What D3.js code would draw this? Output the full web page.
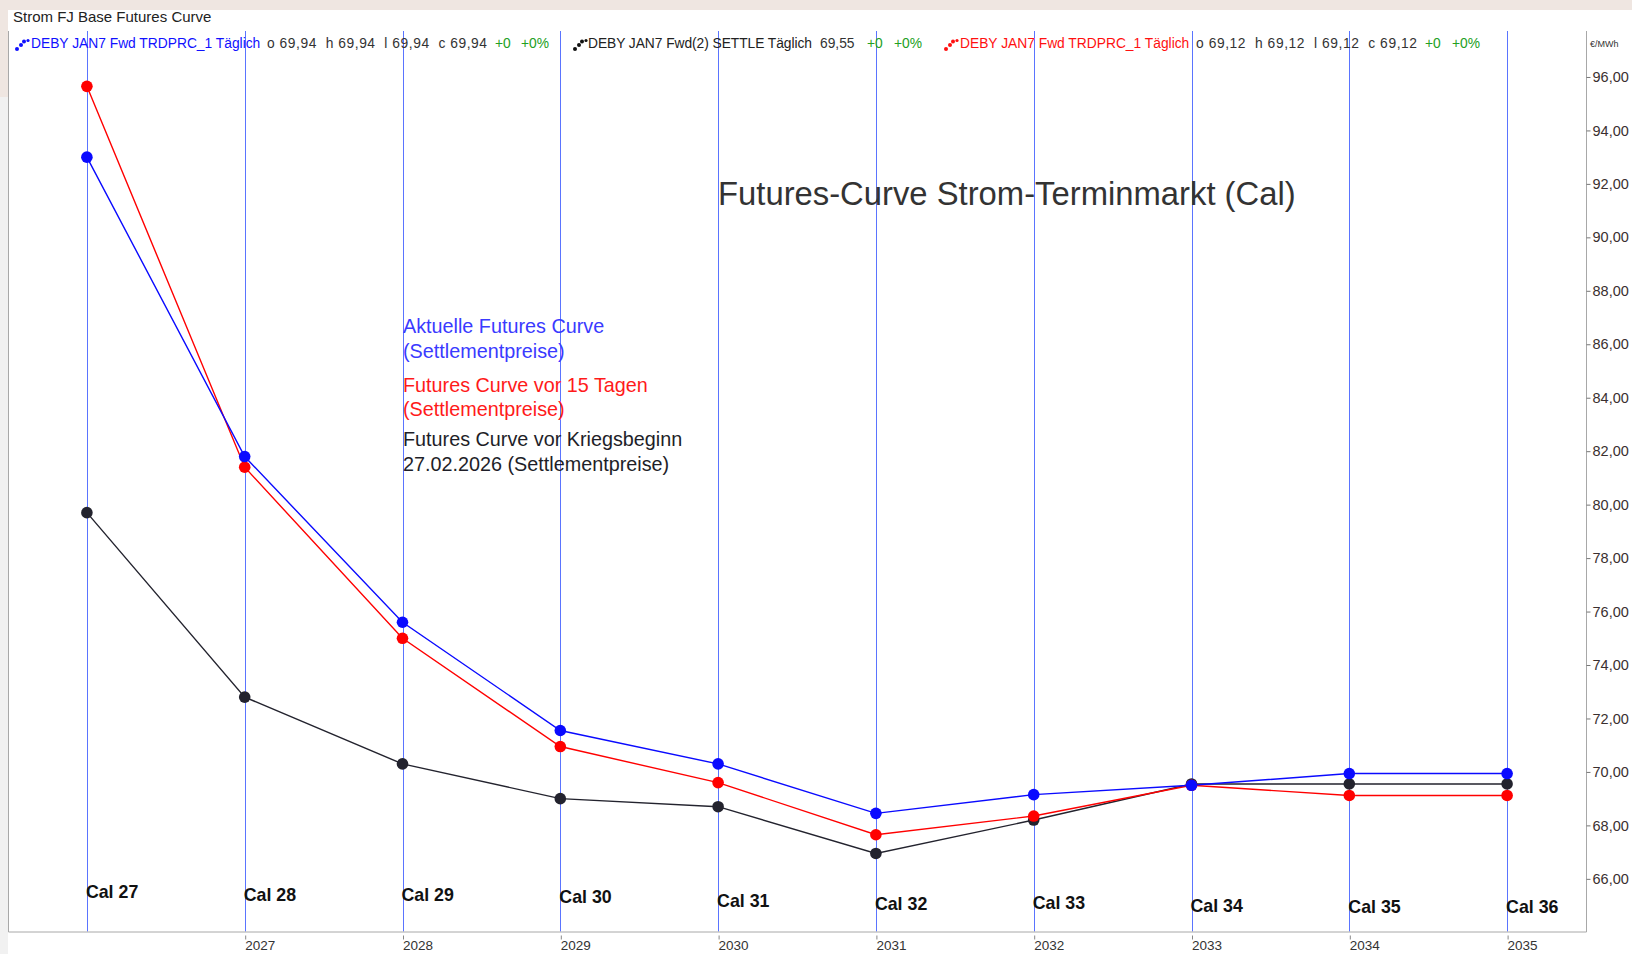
<!DOCTYPE html>
<html>
<head>
<meta charset="utf-8">
<script src="https://d3js.org/d3.v7.min.js"></script>
<style>
  body { margin: 0; background: #efe6e1; }
  svg { display: block; font-family: "Liberation Sans", Arial, sans-serif; }
</style>
</head>
<body>
<div id="chart"></div>
<script>
// contracts and their delivery years
var contracts = ["Cal 27", "Cal 28", "Cal 29", "Cal 30", "Cal 31", "Cal 32", "Cal 33", "Cal 34", "Cal 35", "Cal 36"];
var years = [2026, 2027, 2028, 2029, 2030, 2031, 2032, 2033, 2034, 2035];

// settlement prices in EUR/MWh
var aktuell  = [93.0, 81.8, 75.6, 71.55, 70.3, 68.45, 69.15, 69.5, 69.94, 69.94];
var vor15    = [95.65, 81.4, 75.0, 70.95, 69.6, 67.65, 68.35, 69.5, 69.12, 69.12];
var vorKrieg = [79.7, 72.8, 70.3, 69.0, 68.7, 66.95, 68.2, 69.55, 69.55, 69.55];

// level (EUR/MWh) where each "Cal" label sits
var calLevel = [65.5, 65.4, 65.4, 65.32, 65.17, 65.06, 65.1, 65.0, 64.97, 64.97];

var yTicks = [66, 68, 70, 72, 74, 76, 78, 80, 82, 84, 86, 88, 90, 92, 94, 96];

var W = 1632, H = 954;
var plot = {left: 8, right: 1586, top: 31, bottom: 931.5};

var svg = d3.select("#chart").append("svg")
    .attr("width", W)
    .attr("height", H);

// backgrounds
svg.append("rect").attr("x", 0).attr("y", 0).attr("width", W).attr("height", H).attr("fill", "#efe6e1");
svg.append("rect").attr("x", 0).attr("y", 97).attr("width", 8).attr("height", H - 97).attr("fill", "#f1f1f1");
svg.append("rect").attr("x", 8).attr("y", 10).attr("width", W - 8).attr("height", H - 10).attr("fill", "#ffffff");

var x = d3.scaleLinear()
    .domain([-0.5, 9.5])
    .range([plot.left, plot.right]);

var y = d3.scaleLinear()
    .domain([64.03, 97.72])
    .range([plot.bottom, plot.top]);

// vertical contract lines
svg.append("g")
  .selectAll("line")
  .data(contracts)
  .enter().append("line")
    .attr("x1", function(d, i) { return Math.round(x(i)) + 0.5; })
    .attr("x2", function(d, i) { return Math.round(x(i)) + 0.5; })
    .attr("y1", plot.top)
    .attr("y2", plot.bottom)
    .attr("stroke", "#5a74ff")
    .attr("stroke-width", 1);

// frame
svg.append("path")
    .attr("d", "M" + (plot.left + 0.5) + "," + plot.top + "V" + (plot.bottom + 0.5) + "H" + (plot.right + 0.5) + "V" + plot.top)
    .attr("fill", "none")
    .attr("stroke", "#a8a8a8");

// right axis
var yAxis = svg.append("g")
    .attr("transform", "translate(" + (plot.right + 0.5) + ",0)")
    .call(d3.axisRight(y)
      .tickValues(yTicks)
      .tickSize(4)
      .tickPadding(2)
      .tickFormat(function(d) { return d3.format(".2f")(d).replace(".", ","); }));
yAxis.select(".domain").remove();
yAxis.selectAll("line").attr("stroke", "#777");
yAxis.selectAll("text")
    .attr("fill", "#3a3030")
    .style("font-size", "14.5px");

svg.append("text")
    .attr("x", 1590)
    .attr("y", 47)
    .attr("fill", "#333")
    .style("font-size", "9px")
    .text("€/MWh");

// bottom axis with years
var xAxis = svg.append("g")
    .attr("transform", "translate(0," + (plot.bottom + 4) + ")")
    .call(d3.axisBottom(x)
      .tickValues(d3.range(1, years.length))
      .tickSize(4)
      .tickPadding(1)
      .tickFormat(function(i) { return years[i]; }));
xAxis.select(".domain").remove();
xAxis.selectAll("line").attr("stroke", "#888").attr("transform", "translate(0.5,0)");
xAxis.selectAll("text")
    .attr("text-anchor", "start")
    .attr("fill", "#333")
    .style("font-size", "13.5px");

// Cal labels
svg.append("g")
  .selectAll("text")
  .data(contracts)
  .enter().append("text")
    .attr("x", function(d, i) { return x(i) - 1; })
    .attr("y", function(d, i) { return y(calLevel[i]); })
    .attr("dy", "0.35em")
    .attr("fill", "#111")
    .style("font-size", "17.8px")
    .style("font-weight", "bold")
    .text(function(d) { return d; });

// series lines and dots (drawn black first, then red, blue on top)
var series = [
  {values: vorKrieg, color: "#23232e"},
  {values: vor15, color: "#ff0000"},
  {values: aktuell, color: "#0a0aff"}
];

var line = d3.line()
    .x(function(d, i) { return x(i); })
    .y(function(d) { return y(d); });

series.forEach(function(s) {
  svg.append("path")
      .datum(s.values)
      .attr("d", line)
      .attr("fill", "none")
      .attr("stroke", s.color)
      .attr("stroke-width", 1.4);
});
series.forEach(function(s) {
  svg.append("g")
    .selectAll("circle")
    .data(s.values)
    .enter().append("circle")
      .attr("cx", function(d, i) { return x(i); })
      .attr("cy", function(d) { return y(d); })
      .attr("r", 5.8)
      .attr("fill", s.color);
});

// title and notes
svg.append("text")
    .attr("x", 718)
    .attr("y", 205)
    .attr("fill", "#333")
    .style("font-size", "32.8px")
    .text("Futures-Curve Strom-Terminmarkt (Cal)");

var notes = [
  {text: "Aktuelle Futures Curve", color: "#3a3aff", y: 333},
  {text: "(Settlementpreise)", color: "#3a3aff", y: 358},
  {text: "Futures Curve vor 15 Tagen", color: "#ff1a1a", y: 392},
  {text: "(Settlementpreise)", color: "#ff1a1a", y: 416},
  {text: "Futures Curve vor Kriegsbeginn", color: "#1e1e28", y: 446},
  {text: "27.02.2026 (Settlementpreise)", color: "#1e1e28", y: 471}
];
svg.append("g")
  .selectAll("text")
  .data(notes)
  .enter().append("text")
    .attr("x", 403)
    .attr("y", function(d) { return d.y; })
    .attr("fill", function(d) { return d.color; })
    .style("font-size", "19.8px")
    .text(function(d) { return d.text; });

// header
svg.append("text")
    .attr("x", 13)
    .attr("y", 22)
    .attr("fill", "#222")
    .style("font-size", "15px")
    .text("Strom FJ Base Futures Curve");

// legend row (w = width the segment takes in the picture)
var legend = [
  {x: 31, text: "DEBY JAN7 Fwd TRDPRC_1 Täglich", color: "#1010ff"},
  {x: 267, text: "o 69,94  h 69,94  l 69,94  c 69,94", color: "#333", w: 220},
  {x: 495, text: "+0", color: "#22a022"},
  {x: 521, text: "+0%", color: "#22a022"},
  {x: 588, text: "DEBY JAN7 Fwd(2) SETTLE Täglich", color: "#222", w: 224},
  {x: 820, text: "69,55", color: "#333"},
  {x: 867, text: "+0", color: "#22a022"},
  {x: 894, text: "+0%", color: "#22a022"},
  {x: 960, text: "DEBY JAN7 Fwd TRDPRC_1 Täglich", color: "#ff1010"},
  {x: 1196, text: "o 69,12  h 69,12  l 69,12  c 69,12", color: "#333", w: 221},
  {x: 1425, text: "+0", color: "#22a022"},
  {x: 1452, text: "+0%", color: "#22a022"}
];
svg.append("g")
  .selectAll("text")
  .data(legend)
  .enter().append("text")
    .attr("x", function(d) { return d.x; })
    .attr("y", 48)
    .attr("fill", function(d) { return d.color; })
    .style("font-size", "13.8px")
    .style("white-space", "pre")
    .attr("xml:space", "preserve")
    .attr("textLength", function(d) { return d.w || null; })
    .text(function(d) { return d.text; });

// little dot icons in front of each legend entry
var icons = [{x: 15, color: "#1010ff"}, {x: 573, color: "#111"}, {x: 944, color: "#ff1010"}];
var iconDots = [[2, 49, 2], [6, 45, 2], [9, 41.5, 2], [13, 40.5, 1.6]];
icons.forEach(function(ic) {
  svg.append("g")
    .selectAll("circle")
    .data(iconDots)
    .enter().append("circle")
      .attr("cx", function(d) { return ic.x + d[0]; })
      .attr("cy", function(d) { return d[1]; })
      .attr("r", function(d) { return d[2]; })
      .attr("fill", ic.color);
});
</script>
</body>
</html>
